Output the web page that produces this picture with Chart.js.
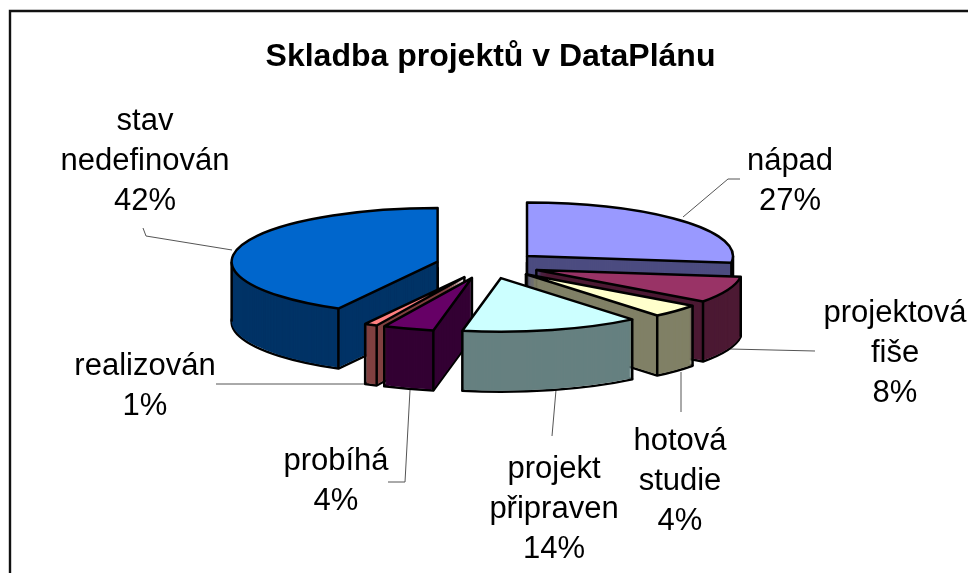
<!DOCTYPE html>
<html><head><meta charset="utf-8">
<style>html,body{margin:0;padding:0;background:#fff;overflow:hidden}#w{width:968px;height:573px;position:relative}</style>
<script src="https://cdn.jsdelivr.net/npm/chart.js@4/dist/chart.umd.min.js"></script>
</head><body><div id="w"><canvas id="c" width="968" height="573"></canvas></div>
<script>
const titleText = "Skladba projektů v DataPlánu";
const categories = ["nápad","projektová fiše","hotová studie","projekt připraven","probíhá","realizován","stav nedefinován"];
const values = [27,8,4,14,4,1,42];
const topColors = ["#9999FF","#993366","#FFFFCC","#CCFFFF","#660066","#FF8080","#0066CC"];
const sideColors = ["#4C4C80","#4C1933","#808066","#668080","#330033","#804040","#003366"];

// Presentation only: label anchors and leader lines, one entry per category.
const labelLines = [["nápad"],["projektová","fiše"],["hotová","studie"],["projekt","připraven"],["probíhá"],["realizován"],["stav","nedefinován"]];
const labelAnchors = [[790,161],[895,313],[680,441],[554,469],[336,461],[145,366],[145,121]];
const leaders = [
  [[740,179],[728,179],[683,217]],
  [[815,351],[730,349]],
  [[681,412],[681,372]],
  [[552,436],[556,390]],
  [[388,482],[405,482],[410,390]],
  [[216,384],[374,384]],
  [[143,228],[146,236],[232,250]]
];
const Y_SQUASH = 0.26, EXPLODE = 52, DEPTH = 60, SHIFT_X = -2.5, FONT = '"Liberation Sans", Arial, sans-serif';

function centre(a){
  const m=(a.startAngle+a.endAngle)/2;
  return [a.x+SHIFT_X+Math.cos(m)*EXPLODE, a.y+Math.sin(m)*EXPLODE*Y_SQUASH];
}
function rim(a,ang,dy){
  const [cx,cy]=centre(a);
  return [cx+Math.cos(ang)*a.outerRadius, cy+Math.sin(ang)*a.outerRadius*Y_SQUASH+dy];
}
function wedge(ctx,a,dy){
  const [cx,cy]=centre(a);
  ctx.beginPath();
  ctx.moveTo(cx,cy+dy);
  ctx.ellipse(cx,cy+dy,a.outerRadius,a.outerRadius*Y_SQUASH,0,a.startAngle,a.endAngle);
  ctx.closePath();
}
function vline(ctx,x,y){ctx.beginPath();ctx.moveTo(x,y);ctx.lineTo(x,y+DEPTH);ctx.stroke();}

const pie3d = {
  id:'pie3d',
  beforeDraw(chart){
    const ctx=chart.ctx;
    ctx.save();
    ctx.fillStyle='#fff';ctx.fillRect(0,0,chart.width,chart.height);
    ctx.strokeStyle='#111';ctx.lineWidth=2.4;
    ctx.beginPath();ctx.moveTo(10,chart.height+2);ctx.lineTo(10,11);ctx.lineTo(chart.width+2,11);ctx.stroke();
    ctx.restore();
  },
  beforeDatasetsDraw(chart){
    const ctx=chart.ctx, arcs=chart.getDatasetMeta(0).data;
    ctx.save();
    ctx.strokeStyle='#555';ctx.lineWidth=1;
    leaders.forEach(pts=>{ctx.beginPath();pts.forEach((p,i)=>i?ctx.lineTo(p[0],p[1]):ctx.moveTo(p[0],p[1]));ctx.stroke();});
    const order=arcs.map((a,i)=>i).sort((p,q)=>{
      const s=a=>Math.sin((a.startAngle+a.endAngle)/2);
      return s(arcs[p])-s(arcs[q]);
    });
    ctx.lineJoin='round';
    order.forEach(i=>{
      const a=arcs[i];
      ctx.strokeStyle='#000';ctx.lineWidth=2.5;
      wedge(ctx,a,DEPTH);ctx.stroke();
      ctx.fillStyle=sideColors[i];
      for(let d=DEPTH-1;d>=0;d--){wedge(ctx,a,d);ctx.fill();}
      const clock=t=>t+Math.PI/2;
      const startVisible=Math.sin(clock(a.startAngle))<-1e-6, endVisible=Math.sin(clock(a.endAngle))>1e-6;
      const marks=[];
      [a.startAngle,a.endAngle].forEach(t=>{if(Math.sin(t)>=-0.01)marks.push(t);});
      [0,Math.PI,2*Math.PI].forEach(t=>{if(t>a.startAngle&&t<a.endAngle)marks.push(t);});
      marks.forEach(t=>{const p=rim(a,t,0);vline(ctx,p[0],p[1]);});
      if(startVisible||endVisible){const [cx,cy]=centre(a);vline(ctx,cx,cy);}
      ctx.fillStyle=topColors[i];
      wedge(ctx,a,0);ctx.fill();ctx.stroke();
    });
    ctx.restore();
    return false;
  },
  afterDraw(chart){
    const ctx=chart.ctx,total=values.reduce((s,v)=>s+v,0);
    ctx.save();
    ctx.fillStyle='#000';ctx.font='31px '+FONT;ctx.textAlign='center';ctx.textBaseline='middle';
    categories.forEach((c,i)=>{
      const lines=labelLines[i].concat([Math.round(values[i]/total*100)+'%']);
      lines.forEach((t,k)=>ctx.fillText(t,labelAnchors[i][0],labelAnchors[i][1]+k*40));
    });
    ctx.restore();
  }
};

new Chart(document.getElementById('c'),{
  type:'pie',
  data:{labels:categories,datasets:[{data:values,backgroundColor:topColors,borderColor:'#000',borderWidth:0,radius:206}]},
  options:{
    responsive:false,animation:false,
    layout:{padding:{left:13,right:0,top:0,bottom:119.4}},
    events:[],
    plugins:{
      legend:{display:false},tooltip:{enabled:false},
      title:{display:true,text:titleText,color:'#000',font:{family:FONT,size:32,weight:'bold',lineHeight:1.2},padding:{top:38,bottom:0}}
    }
  },
  plugins:[pie3d]
});
</script></body></html>
